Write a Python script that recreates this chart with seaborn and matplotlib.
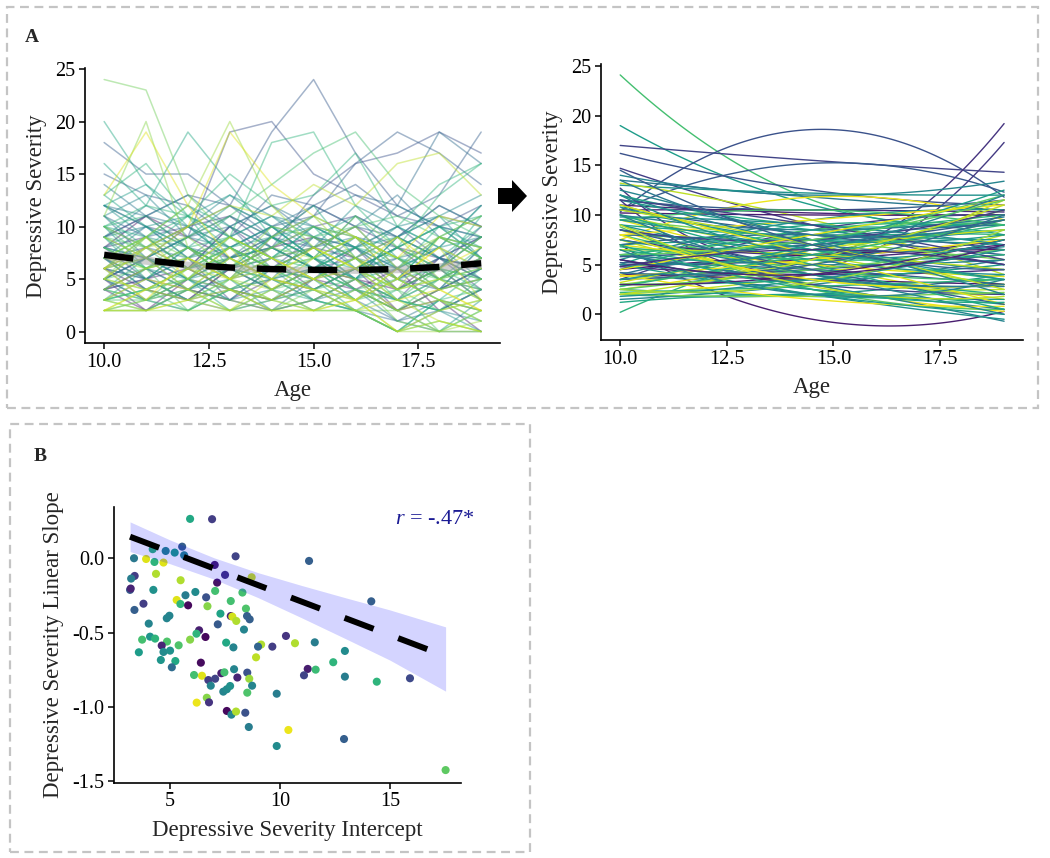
import numpy as np
import pandas as pd
import matplotlib
matplotlib.use("Agg")
import matplotlib.pyplot as plt
import seaborn as sns
from matplotlib.patches import Rectangle, Polygon

# ---------------- data ----------------
ages = [10, 11, 12, 13, 14, 15, 16, 17, 18, 19]

# observed trajectories (depressive severity at each age) and colour value per subject
trayectorias = [
    [24, 23, 13, 9, 7, 8, 6, 4, 5, 7], [12, 10, 9, 19, 20, 15, 13, 11, 10, 12],
    [9, 11, 13, 12, 19, 24, 17, 12, 10, 9], [18, 15, 15, 12, 10, 11, 16, 19, 17, 14],
    [20, 14, 10, 8, 9, 12, 7, 5, 6, 5], [11, 20, 8, 6, 10, 9, 7, 9, 5, 6],
    [13, 19, 12, 7, 5, 8, 6, 3, 4, 2], [16, 12, 19, 14, 9, 7, 5, 8, 6, 11],
    [7, 9, 12, 20, 12, 8, 10, 6, 9, 8], [6, 8, 10, 19, 14, 11, 9, 7, 11, 10],
    [10, 12, 11, 9, 18, 19, 12, 8, 13, 16], [8, 6, 9, 11, 14, 17, 19, 14, 11, 9],
    [5, 7, 6, 10, 8, 13, 16, 17, 19, 17], [4, 6, 8, 5, 9, 11, 13, 12, 19, 16],
    [9, 7, 10, 12, 11, 14, 12, 16, 17, 13], [15, 13, 12, 9, 13, 12, 14, 11, 13, 19],
    [13, 16, 11, 15, 12, 13, 17, 10, 14, 16], [2, 2, 2, 2, 2, 2, 2, 0, 0, 0],
    [3, 2, 4, 2, 3, 2, 2, 0, 1, 0], [5, 3, 2, 4, 6, 3, 2, 0, 2, 1],
    [7, 5, 6, 4, 3, 5, 4, 2, 3, 0], [8, 6, 4, 7, 5, 4, 6, 3, 2, 4],
    [10, 8, 7, 5, 6, 8, 5, 7, 4, 6], [6, 9, 5, 8, 4, 7, 9, 5, 8, 3],
    [4, 5, 7, 3, 6, 5, 8, 4, 6, 9], [12, 9, 6, 8, 10, 7, 5, 9, 7, 5],
    [3, 4, 2, 5, 3, 6, 4, 2, 5, 3], [9, 11, 8, 6, 7, 4, 6, 8, 5, 7],
    [5, 8, 10, 7, 9, 6, 3, 5, 9, 11], [11, 7, 9, 10, 6, 8, 10, 6, 4, 8],
    [2, 3, 5, 4, 2, 3, 5, 1, 0, 2], [8, 10, 7, 9, 11, 10, 8, 12, 10, 9],
    [6, 4, 3, 6, 8, 9, 7, 4, 7, 5], [7, 9, 11, 8, 5, 6, 4, 3, 2, 5],
    [3, 5, 4, 7, 5, 4, 3, 6, 4, 2], [10, 6, 5, 3, 4, 2, 4, 2, 0, 3],
    [5, 7, 9, 11, 8, 10, 11, 9, 12, 10], [9, 5, 3, 5, 7, 5, 2, 0, 3, 6],
    [4, 3, 6, 8, 6, 7, 9, 7, 5, 4], [12, 11, 10, 7, 8, 6, 9, 5, 7, 6],
    [6, 8, 6, 4, 3, 5, 6, 8, 6, 10], [2, 4, 3, 2, 5, 4, 2, 3, 1, 0],
    [8, 7, 9, 12, 10, 7, 8, 10, 8, 12], [5, 2, 4, 3, 2, 3, 5, 2, 4, 6],
    [7, 6, 8, 5, 9, 11, 7, 4, 9, 7], [11, 13, 9, 8, 6, 5, 7, 6, 8, 5],
    [3, 6, 8, 6, 4, 6, 3, 5, 3, 1], [9, 8, 5, 9, 7, 9, 10, 11, 9, 8],
    [6, 5, 7, 10, 12, 9, 6, 7, 5, 4], [4, 7, 5, 3, 6, 8, 5, 9, 11, 7],
    [10, 9, 12, 10, 8, 11, 9, 6, 10, 11], [2, 2, 3, 4, 2, 2, 3, 0, 2, 3],
    [7, 4, 6, 7, 5, 3, 4, 1, 0, 0], [5, 9, 7, 5, 8, 7, 11, 8, 6, 9],
    [8, 5, 4, 6, 4, 6, 8, 5, 7, 4], [13, 10, 8, 11, 9, 10, 8, 9, 7, 10],
    [3, 4, 6, 9, 7, 5, 7, 3, 5, 6], [6, 7, 4, 2, 4, 6, 5, 2, 3, 1],
    [9, 12, 10, 13, 11, 8, 12, 10, 11, 13], [4, 2, 5, 7, 9, 7, 4, 6, 2, 4],
    [11, 8, 11, 6, 7, 10, 6, 8, 10, 7], [5, 6, 2, 4, 3, 4, 6, 4, 0, 2],
    [7, 10, 8, 7, 10, 12, 10, 13, 9, 8], [12, 14, 11, 13, 10, 9, 11, 7, 6, 9],
    [6, 3, 7, 5, 7, 5, 3, 5, 8, 6], [8, 9, 6, 10, 7, 8, 7, 9, 7, 6],
    [3, 5, 8, 6, 5, 9, 8, 6, 4, 8], [10, 7, 6, 8, 6, 4, 5, 3, 6, 3],
    [14, 11, 13, 10, 12, 10, 9, 8, 10, 7], [5, 4, 5, 8, 6, 7, 9, 7, 4, 5],
    [4, 3, 5, 2, 4, 3, 2, 0, 3, 2], [6, 5, 3, 4, 2, 5, 3, 1, 2, 4],
    [8, 6, 7, 9, 6, 5, 7, 4, 6, 5], [5, 7, 4, 6, 8, 6, 4, 3, 5, 7],
    [3, 2, 3, 5, 4, 2, 4, 2, 0, 1], [7, 8, 10, 8, 6, 9, 8, 10, 7, 9],
    [9, 7, 5, 6, 9, 7, 5, 6, 8, 6], [2, 4, 6, 4, 3, 5, 7, 5, 3, 2],
    [10, 11, 8, 9, 7, 6, 8, 7, 5, 8], [4, 6, 4, 3, 5, 4, 6, 2, 4, 5],
    [6, 9, 8, 5, 7, 10, 8, 6, 9, 7], [3, 3, 2, 4, 6, 4, 3, 4, 2, 3],
    [11, 9, 10, 12, 9, 8, 10, 9, 11, 10], [5, 4, 6, 5, 3, 2, 3, 0, 1, 0],
    [7, 5, 8, 6, 9, 7, 6, 8, 10, 8], [8, 11, 9, 7, 8, 6, 5, 4, 6, 3],
    [2, 3, 4, 3, 2, 4, 2, 2, 4, 5], [6, 7, 5, 8, 10, 8, 9, 7, 8, 12],
    [9, 6, 7, 4, 5, 7, 4, 5, 3, 4], [4, 5, 3, 6, 4, 6, 5, 3, 7, 6],
    [12, 10, 11, 9, 11, 9, 7, 10, 8, 9], [5, 8, 6, 9, 7, 5, 6, 9, 6, 8],
    [3, 4, 5, 7, 8, 6, 8, 5, 9, 7], [7, 4, 3, 2, 3, 4, 2, 1, 3, 2],
    [10, 8, 9, 6, 8, 10, 9, 7, 9, 11], [6, 3, 4, 5, 2, 3, 5, 3, 2, 0],
    [8, 7, 10, 11, 9, 12, 10, 8, 7, 9], [2, 2, 4, 6, 5, 3, 2, 4, 6, 4],
    [9, 10, 7, 8, 10, 7, 11, 9, 12, 10], [4, 6, 7, 5, 6, 8, 6, 4, 5, 3],
    [5, 3, 5, 4, 5, 6, 7, 5, 4, 6], [7, 9, 6, 7, 4, 5, 3, 6, 5, 7],
]
color_tray = [0.78, 0.25, 0.28, 0.30, 0.60, 0.82, 0.95, 0.60, 0.85, 0.95,
              0.65, 0.70, 0.25, 0.35, 0.90, 0.30, 0.65, 0.85, 0.75, 0.45,
              0.10, 0.60, 0.40, 0.90, 0.20, 0.50, 0.70, 0.15, 0.55, 0.35,
              0.80, 0.45, 0.05, 0.65, 0.95, 0.50, 0.20, 0.60, 0.75, 0.40,
              0.30, 0.90, 0.55, 0.12, 0.85, 0.45, 0.65, 0.70, 0.35, 0.50,
              0.60, 0.92, 0.42, 0.78, 0.22, 0.58, 0.68, 0.88, 0.48, 0.08,
              0.62, 0.72, 0.38, 0.55, 0.98, 0.15, 0.45, 0.70, 0.40, 0.80,
              0.60, 0.35, 0.75, 0.45, 0.85, 0.25, 0.55, 0.92, 0.65, 0.15,
              0.48, 0.72, 0.32, 0.88, 0.58, 0.05, 0.78, 0.42, 0.68, 0.22,
              0.52, 0.95, 0.62, 0.38, 0.82, 0.50, 0.18, 0.66, 0.44, 0.90,
              0.28, 0.74]

# group mean trajectory and its standard error
media_sev = [7.3, 6.8, 6.35, 6.1, 5.95, 5.88, 5.86, 5.95, 6.15, 6.5]
media_se = [0.45, 0.4, 0.35, 0.32, 0.3, 0.3, 0.32, 0.35, 0.4, 0.45]

# fitted quadratic trajectories: predicted severity at age 10, 14.5 and 19
edades_pred = [10, 14.5, 19]
pred_10 = [24.1, 19.0, 17.0, 10.3, 10.5, 12.7, 11.5, 16.2, 7.0, 0.2, 14.7, 14.0, 13.5, 13.0,
           7.5, 13.2, 12.0, 11.5, 11.0, 10.5, 10.2, 10.0, 9.5, 9.0, 8.5, 8.8, 6.0, 5.5,
           4.0, 2.0, 1.5, 1.2, 2.5, 2.0, 2.5, 3.0, 2.8, 3.5, 3.0, 4.5, 5.0, 5.5, 4.0, 4.5,
           5.0, 4.8, 5.2, 6.0, 6.5, 7.0, 6.0, 7.5, 8.0, 8.5, 9.0, 9.5, 10.0, 10.5, 9.0, 8.0,
           7.5, 7.0, 6.5, 6.0, 5.5, 4.0, 3.5, 3.0, 2.2, 2.0, 4.0, 5.0, 8.0, 9.5, 11.5, 12.0,
           11.0, 8.5, 7.0, 6.5, 3.8, 3.2, 2.5, 5.8, 6.8, 9.8, 10.8,
           10.5, 11.0, 9.5, 12.5, 8.5, 10.0, 7.5, 11.5, 2.0, 3.5, 4.5, 2.8, 5.0, 3.0,
           1.8, 4.2, 6.0, 2.5, 8.0, 9.0, 7.0, 6.5, 10.0, 12.0, 13.5, 14.5, 5.5, 4.8]
pred_145 = [11.5, 11.0, 15.5, 18.6, 15.2, 5.6, 4.5, 12.5, -0.5, 6.5, 9.0, 12.0, 11.8, 12.2,
            11.8, 9.5, 9.0, 10.5, 10.2, 10.5, 10.0, 6.0, 5.0, 4.0, 3.0, 2.5, 3.0, 2.0,
            2.5, 2.0, 3.0, 2.0, 1.8, 4.0, 5.5, 6.0, 7.0, 8.5, 5.0, 8.5, 9.0, 9.5, 7.5, 6.0,
            5.5, 4.0, 4.5, 5.0, 7.0, 7.5, 8.0, 6.0, 7.0, 6.5, 8.0, 7.5, 8.5, 8.0, 5.5, 4.5,
            3.5, 5.0, 4.0, 3.5, 3.0, 3.5, 4.5, 3.5, 2.8, 1.8, 1.5, 2.0, 9.5, 10.5, 8.5, 7.0,
            6.5, 7.5, 8.0, 6.0, 5.5, 6.5, 4.5, 7.0, 5.5, 9.0, 7.5,
            7.0, 6.0, 6.5, 7.5, 4.5, 5.0, 4.0, 9.0, 5.5, 7.0, 8.0, 6.0, 6.5, 4.0,
            3.5, 5.0, 7.5, 3.2, 3.5, 2.8, 2.5, 2.0, 4.0, 6.0, 8.0, 7.0, 4.0, 6.5]
pred_19 = [9.5, 9.0, 14.3, 11.8, 12.3, 19.2, 17.3, 11.0, 0.3, 8.0, 5.0, 13.4, 10.5, 12.0,
           9.5, 4.0, 9.5, 11.5, 10.0, 10.3, 10.0, 3.0, 1.5, 2.0, 0.3, 0.5, -0.7, -0.5,
           0.5, 4.0, 5.5, 1.0, 1.5, 8.0, 9.5, 10.5, 12.0, 10.0, 11.5, 9.0, 8.0, 10.5, 9.0, 6.5,
           7.0, 4.5, 3.0, 5.5, 8.5, 7.0, 10.0, 7.5, 5.0, 6.8, 8.5, 5.5, 9.8, 6.0, 4.0, 3.5,
           2.5, 3.8, 2.0, 2.8, 2.0, 3.0, 6.0, 5.0, 3.5, 2.2, 0.8, 0.0, 11.0, 9.0, 7.5, 4.5,
           3.5, 10.5, 6.5, 4.5, 7.5, 8.5, 6.5, 9.5, 6.0, 7.0, 8.0,
           2.5, 1.0, 3.5, 2.0, 1.0, 0.5, 0.0, 5.5, 11.0, 12.5, 11.5, 9.0, 12.0, 7.5,
           6.5, 10.0, 11.5, 8.5, 3.0, 1.8, 1.2, 3.5, 3.0, 7.5, 9.5, 4.5, 7.0, 5.0]
color_pred = [0.70, 0.55, 0.20, 0.25, 0.28, 0.15, 0.17, 0.25, 0.08, 0.65, 0.18, 0.45, 0.40, 0.50,
              0.97, 0.90, 0.60, 0.30, 0.10, 0.12, 0.08, 0.90, 0.95, 0.85, 0.97, 0.75, 0.45, 0.50,
              0.40, 0.50, 0.45, 0.60, 0.55, 0.90, 0.95, 0.85, 0.75, 0.20, 0.90, 0.70, 0.60, 0.50,
              0.40, 0.05, 0.10, 0.15, 0.30, 0.45, 0.50, 0.55, 0.65, 0.12, 0.35, 0.45, 0.60, 0.80,
              0.42, 0.30, 0.50, 0.70, 0.90, 0.95, 0.60, 0.40, 0.20, 0.08, 0.30, 0.55, 0.65, 0.80,
              0.97, 0.55, 0.98, 0.70, 0.55, 0.45, 0.62, 0.18, 0.35, 0.90, 0.98, 0.92, 0.75, 0.28,
              0.65, 0.48, 0.52,
              0.90, 0.95, 0.50, 0.45, 0.30, 0.60, 0.45, 0.20, 0.90, 0.55, 0.95, 0.65, 0.45, 0.10,
              0.50, 0.35, 0.75, 0.85, 0.97, 0.90, 0.60, 0.45, 0.42, 0.50, 0.40, 0.30, 0.10, 0.15]

# panel B: intercept vs linear slope per subject
intercepto = [5.91, 6.91, 5.55, 4.80, 5.21, 4.21, 5.64, 3.36, 3.91, 4.29, 4.70, 7.98, 7.03, 7.50,
              4.36, 3.39, 3.23, 5.48, 7.14, 8.71, 3.18, 3.21, 4.24, 6.15, 7.05, 8.29, 5.70, 6.64,
              5.30, 5.47, 5.82, 7.76, 3.79, 6.70, 3.38, 7.29, 8.45, 4.97, 4.85, 7.76, 7.83, 8.01,
              8.50, 8.62, 7.17, 4.03, 8.36, 6.32, 6.61, 4.09, 4.32, 3.73, 5.91, 6.20, 4.86, 7.55,
              10.27, 10.68, 4.62, 5.39, 7.88, 9.14, 9.65, 9.00, 11.32, 14.15, 11.58, 12.95, 12.42,
              11.26, 11.62, 11.09, 12.95, 14.40, 15.91, 10.38, 12.91, 17.53, 3.58, 4.70, 5.00,
              4.58, 5.24, 5.08, 6.40, 6.09, 6.45, 6.74, 7.05, 7.33, 7.47, 7.91, 8.51, 8.60, 8.06,
              6.85, 7.42, 7.58, 7.73, 8.73, 8.51, 9.85, 6.21, 6.67, 6.77, 7.58, 7.79, 8.00, 8.42,
              8.58, 9.85, 8.91]
pendiente = [0.265, 0.263, 0.078, 0.049, 0.038, 0.061, 0.020, 0.000, -0.005, -0.025, -0.029,
             0.013, -0.045, -0.112, -0.105, -0.119, -0.137, -0.148, -0.164, -0.128, -0.213,
             -0.204, -0.213, -0.227, -0.220, -0.231, -0.249, -0.263, -0.281, -0.308, -0.317,
             -0.288, -0.306, -0.323, -0.348, -0.373, -0.339, -0.387, -0.404, -0.389, -0.393,
             -0.422, -0.389, -0.411, -0.445, -0.440, -0.480, -0.485, -0.530, -0.528, -0.541,
             -0.548, -0.548, -0.508, -0.561, -0.568, -0.523, -0.572, -0.588, -0.586, -0.600,
             -0.581, -0.595, -0.595, -0.018, -0.290, -0.566, -0.624, -0.700, -0.745, -0.750,
             -0.788, -0.797, -0.831, -0.808, -1.156, -1.217, -1.426, -0.633, -0.631, -0.622,
             -0.685, -0.692, -0.734, -0.703, -0.786, -0.791, -0.820, -0.811, -0.774, -0.768,
             -0.747, -0.770, -0.811, -0.803, -0.858, -0.898, -0.882, -0.860, -0.858, -0.905,
             -0.912, -0.972, -0.939, -0.970, -1.028, -1.053, -1.032, -1.040, -1.136, -1.264,
             -0.667]
color_b = [0.60, 0.18, 0.30, 0.45, 0.55, 0.65, 0.45, 0.40, 0.95, 0.65, 0.95, 0.20, 0.08, 0.15,
           0.88, 0.18, 0.42, 0.88, 0.05, 0.92, 0.28, 0.10, 0.50, 0.48, 0.70, 0.70, 0.42, 0.25,
           0.95, 0.65, 0.02, 0.70, 0.18, 0.82, 0.30, 0.58, 0.72, 0.45, 0.45, 0.10, 0.93, 0.88,
           0.30, 0.30, 0.28, 0.45, 0.45, 0.08, 0.02, 0.52, 0.65, 0.70, 0.82, 0.65, 0.72, 0.60,
           0.15, 0.88, 0.10, 0.72, 0.45, 0.88, 0.18, 0.32, 0.30, 0.30, 0.42, 0.48, 0.65, 0.08,
           0.68, 0.20, 0.42, 0.65, 0.22, 0.97, 0.30, 0.75, 0.55, 0.48, 0.50, 0.52, 0.60, 0.35,
           0.03, 0.70, 0.95, 0.18, 0.20, 0.08, 0.70, 0.45, 0.25, 0.85, 0.10, 0.45, 0.45, 0.48,
           0.50, 0.45, 0.72, 0.42, 0.97, 0.82, 0.15, 0.02, 0.45, 0.88, 0.25, 0.42, 0.48, 0.90]

# panel B: model-implied regression line and its 95% band
banda_x = [3.18, 5, 7, 9, 11, 13, 15, 17.53]
banda_centro = [0.145, 0.043, -0.069, -0.181, -0.293, -0.405, -0.517, -0.659]
banda_inf = [0.045, -0.037, -0.141, -0.265, -0.402, -0.543, -0.686, -0.895]
banda_sup = [0.245, 0.123, 0.003, -0.097, -0.184, -0.267, -0.348, -0.462]

# ---------------- style ----------------
sns.set_style("white")
plt.rcParams["font.family"] = ["Liberation Serif", "DejaVu Serif"]
plt.rcParams["mathtext.fontset"] = "custom"
plt.rcParams["mathtext.it"] = "Liberation Serif:italic"
plt.rcParams["mathtext.rm"] = "Liberation Serif"
plt.rcParams["axes.unicode_minus"] = False

W, H = 1050, 858
fig = plt.figure(figsize=(W / 100, H / 100), dpi=100)


def caja(x0, y0, x1, y1):
    """Axes box from pixel coordinates (origin top-left)."""
    return [x0 / W, 1 - y1 / H, (x1 - x0) / W, (y1 - y0) / H]


def estilo(ax):
    for s in ["top", "right"]:
        ax.spines[s].set_visible(False)
    for s in ["left", "bottom"]:
        ax.spines[s].set_linewidth(1.2)
        ax.spines[s].set_color("black")
    ax.tick_params(direction="out", length=4, width=1.1, labelsize=14.5,
                   colors="black", left=True, bottom=True, pad=3)


cmap = plt.get_cmap("viridis")

# ---------------- panel A left: observed trajectories ----------------
ax1 = fig.add_axes(caja(85.3, 68.3, 500, 343.3))
filas = []
for i, tr in enumerate(trayectorias):
    for a, v in zip(ages, tr):
        filas.append({"sujeto": i, "edad": a, "sev": v, "c": color_tray[i]})
df = pd.DataFrame(filas)
sns.lineplot(data=df, x="edad", y="sev", units="sujeto", estimator=None, hue="c",
             palette="viridis", hue_norm=(0, 1), alpha=0.45, lw=1.1, legend=False, ax=ax1)
lo = np.array(media_sev) - np.array(media_se)
hi = np.array(media_sev) + np.array(media_se)
ax1.fill_between(ages, lo, hi, color="#999999", alpha=0.45, lw=0, zorder=4)
sns.lineplot(x=ages, y=media_sev, color="black", lw=4.6, ax=ax1, zorder=5,
             linestyle=(0, (4.6, 3.4)))
ax1.set_xlim(9.55, 19.45)
ax1.set_ylim(-1.12, 25.07)
ax1.set_xticks([10, 12.5, 15, 17.5])
ax1.set_yticks([0, 5, 10, 15, 20, 25])
ax1.set_xlabel("Age", fontsize=16.5, labelpad=6)
ax1.set_ylabel("Depressive Severity", fontsize=16.5, labelpad=6)
estilo(ax1)

# ---------------- panel A right: fitted quadratic trajectories ----------------
ax2 = fig.add_axes(caja(601, 64, 1023.3, 340))
for p10, p145, p19, c in zip(pred_10, pred_145, pred_19, color_pred):
    sns.regplot(x=np.array(edades_pred), y=np.array([p10, p145, p19]), order=2,
                scatter=False, ci=None, truncate=True, color=cmap(c),
                line_kws={"lw": 1.0}, ax=ax2)
ax2.set_xlim(9.55, 19.45)
ax2.set_ylim(-2.59, 25.2)
ax2.set_xticks([10, 12.5, 15, 17.5])
ax2.set_yticks([0, 5, 10, 15, 20, 25])
ax2.set_xlabel("Age", fontsize=16.5, labelpad=6)
ax2.set_ylabel("Depressive Severity", fontsize=16.5, labelpad=6)
estilo(ax2)

# ---------------- panel B: intercept vs slope ----------------
ax3 = fig.add_axes(caja(114, 506.7, 461, 782.7))
dfb = pd.DataFrame({"intercepto": intercepto, "pendiente": pendiente, "c": color_b})
sns.scatterplot(data=dfb, x="intercepto", y="pendiente", hue="c", palette="viridis",
                hue_norm=(0, 1), s=34, linewidth=0, legend=False, ax=ax3, zorder=2)
ax3.fill_between(banda_x, banda_inf, banda_sup, color="blue", alpha=0.17, lw=0, zorder=3)
sns.lineplot(x=banda_x, y=banda_centro, color="black", lw=4.3, ax=ax3, zorder=4,
             linestyle=(0, (5.2, 4.4)))
ax3.set_xlim(2.45, 18.23)
ax3.set_ylim(-1.511, 0.347)
ax3.set_xticks([5, 10, 15])
ax3.set_yticks([0.0, -0.5, -1.0, -1.5])
ax3.set_yticklabels(["0.0", "-0.5", "-1.0", "-1.5"])
ax3.set_xlabel("Depressive Severity Intercept", fontsize=16.5, labelpad=6)
ax3.set_ylabel("Depressive Severity Linear Slope", fontsize=16.5, labelpad=6)
estilo(ax3)
fig.text(475 / W, 1 - 524 / H, r"$\it{r}$ = -.47*", color="#1a1a94", fontsize=16,
         ha="right", va="baseline")

# ---------------- decorations ----------------
for (x0, y0, x1, y1) in [(6.7, 6.7, 1038.3, 408.3), (10, 424, 530, 852)]:
    b = caja(x0, y0, x1, y1)
    fig.add_artist(Rectangle((b[0], b[1]), b[2], b[3], transform=fig.transFigure,
                             fill=False, edgecolor="#c4c4c4", lw=1.6,
                             linestyle=(0, (4, 2.5))))
flecha = [(498, 188), (512, 188), (512, 180), (527, 196), (512, 212), (512, 204), (498, 204)]
fig.add_artist(Polygon([(x / W, 1 - y / H) for x, y in flecha], closed=True,
                       transform=fig.transFigure, facecolor="black", edgecolor="none"))
fig.text(25 / W, 1 - 42 / H, "A", fontsize=14, fontweight="bold", va="baseline")
fig.text(34 / W, 1 - 461 / H, "B", fontsize=14, fontweight="bold", va="baseline")

fig.savefig("out.png", dpi=100)
